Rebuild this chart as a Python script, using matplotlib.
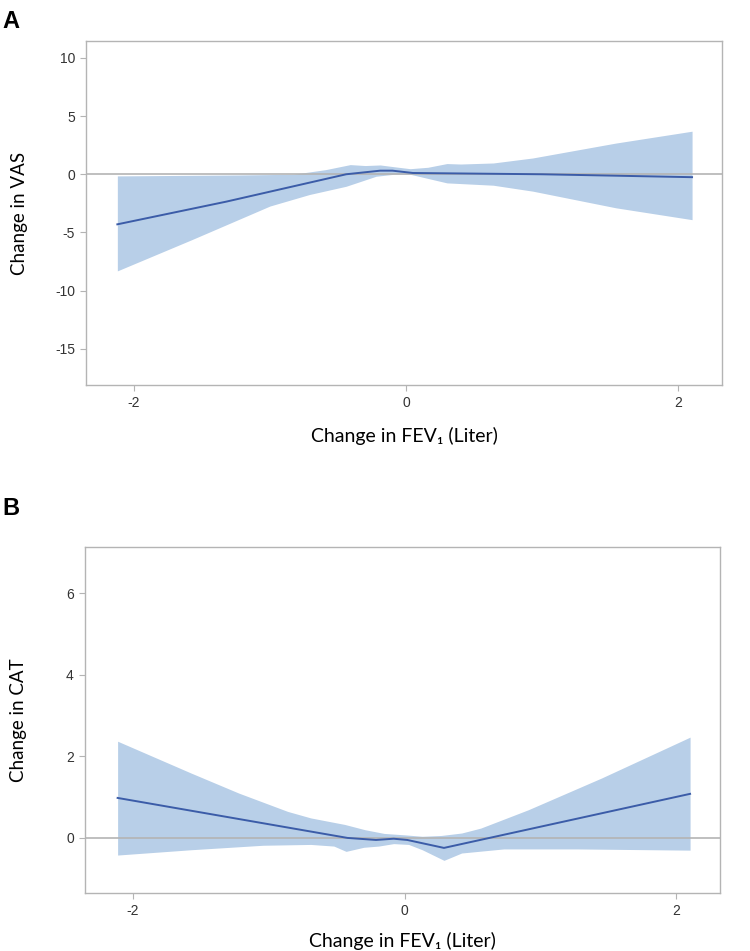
import matplotlib
matplotlib.use("Agg")
import matplotlib.pyplot as plt
import numpy as np

# Panel A: change in VAS
a_line_x = [-2.12, -1.32, -0.44, -0.19, -0.10, 0.05, 1.0, 2.10]
a_line_y = [-4.3, -2.35, 0.0, 0.31, 0.31, 0.11, 0.0, -0.25]
a_up_x = [-2.12, -1.22, -0.83, -0.59, -0.41, -0.30, -0.19, -0.09, 0.03, 0.16, 0.30, 0.40, 0.64, 0.93, 1.54, 2.10]
a_up_y = [-0.14, -0.06, 0.0, 0.4, 0.83, 0.75, 0.8, 0.65, 0.48, 0.6, 0.92, 0.88, 0.97, 1.4, 2.68, 3.7]
a_lo_x = [-2.12, -1.57, -1.0, -0.71, -0.44, -0.22, -0.09, 0.03, 0.30, 0.64, 0.93, 1.54, 2.10]
a_lo_y = [-8.3, -5.6, -2.73, -1.74, -1.03, -0.17, 0.0, 0.0, -0.74, -0.94, -1.45, -2.88, -3.9]

# Panel B: change in CAT
b_line_x = [-2.11, -0.42, -0.21, -0.08, 0.02, 0.29, 2.10]
b_line_y = [0.98, 0.0, -0.05, -0.02, -0.05, -0.245, 1.08]
b_up_x = [-2.11, -1.57, -1.22, -0.86, -0.69, -0.44, -0.29, -0.15, 0.02, 0.13, 0.27, 0.42, 0.56, 0.91, 1.45, 2.10]
b_up_y = [2.37, 1.59, 1.1, 0.65, 0.49, 0.33, 0.2, 0.11, 0.07, 0.04, 0.06, 0.12, 0.24, 0.69, 1.47, 2.47]
b_lo_x = [-2.11, -1.57, -1.04, -0.69, -0.52, -0.43, -0.30, -0.19, -0.08, 0.03, 0.13, 0.29, 0.42, 0.73, 1.27, 2.10]
b_lo_y = [-0.42, -0.29, -0.18, -0.16, -0.2, -0.33, -0.23, -0.2, -0.14, -0.16, -0.29, -0.55, -0.37, -0.27, -0.27, -0.30]

xticks = [-2, 0, 2]
a_yticks = [-15, -10, -5, 0, 5, 10]
b_yticks = [0, 2, 4, 6]

BAND = "#b8cfe8"
LINE = "#3b5ca8"
GRAY = "#b4b4b4"
TICKC = "#333333"
tick_font = ["Liberation Sans Narrow", "Liberation Sans", "DejaVu Sans"]
label_font = ["Lato", "DejaVu Sans"]

fig = plt.figure(figsize=(7.5, 9.51), dpi=100)
axA = fig.add_axes([0.1147, 0.5952, 0.848, 0.3617])
axB = fig.add_axes([0.1133, 0.0610, 0.8467, 0.3638])


def draw(ax, lx, ly, ux, uy, wx, wy, yticks, ylim, ylabel, xpad):
    grid = np.union1d(np.union1d(ux, wx), lx)
    grid = grid[(grid >= min(lx)) & (grid <= max(lx))]
    up = np.interp(grid, ux, uy)
    lo = np.interp(grid, wx, wy)
    ax.fill_between(grid, lo, up, color=BAND, linewidth=0, zorder=1)
    ax.axhline(0, color=GRAY, linewidth=1.2, zorder=2)
    ax.plot(lx, ly, color=LINE, linewidth=1.4, zorder=3)
    ax.set_xlim(-2.35, 2.32)
    ax.set_ylim(*ylim)
    ax.set_xticks(xticks)
    ax.set_yticks(yticks)
    ax.set_xticklabels([str(t) for t in xticks], family=tick_font, fontsize=10, color=TICKC)
    ax.set_yticklabels([str(t) for t in yticks], family=tick_font, fontsize=10, color=TICKC)
    ax.tick_params(axis="both", length=4, width=0.8, color=GRAY, pad=4)
    for s in ax.spines.values():
        s.set_color(GRAY)
        s.set_linewidth(1.0)
    ax.set_ylabel(ylabel, family=label_font, fontsize=13.5)
    ax.yaxis.set_label_coords(-0.092, 0.5)
    ax.set_xlabel("Change in FEV\u2081 (Liter)", family=label_font, fontsize=14, labelpad=xpad)


draw(axA, a_line_x, a_line_y, a_up_x, a_up_y, a_lo_x, a_lo_y, a_yticks, (-18.1, 11.45), "Change in VAS", 12)
draw(axB, b_line_x, b_line_y, b_up_x, b_up_y, b_lo_x, b_lo_y, b_yticks, (-1.35, 7.13), "Change in CAT", 10)

fig.text(0.003, 0.990, "A", fontsize=17, fontweight="bold", family=["Liberation Sans", "DejaVu Sans"], va="top", ha="left")
fig.text(0.003, 0.477, "B", fontsize=17, fontweight="bold", family=["Liberation Sans", "DejaVu Sans"], va="top", ha="left")

fig.savefig("out.png", dpi=100)
